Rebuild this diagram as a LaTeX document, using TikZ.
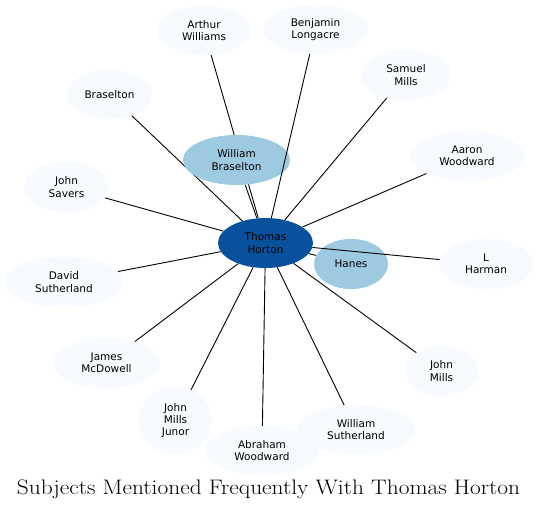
\documentclass[tikz,border=0pt]{standalone}
\usepackage{fontspec}
\newfontfamily\nodefont{DejaVu Sans}
\usetikzlibrary{shapes.geometric,backgrounds}
\definecolor{hubblue}{HTML}{08519C}
\definecolor{midblue}{HTML}{9ECAE1}
\definecolor{paleblue}{HTML}{F7FBFF}
\begin{document}
\begin{tikzpicture}[x=1pt,y=-1pt,
    subject/.style={ellipse, inner sep=0pt, align=center, fill=paleblue,
        font=\nodefont\fontsize{10.5}{12.3}\selectfont},
    link/.style={line width=0.9pt}]
    \useasboundingbox (0,0) rectangle (537,511);
    % Central subject
    \node[subject, fill=hubblue, minimum width=95pt, minimum height=50pt] (th) at (265.5,243) {Thomas\\Horton};
    % Frequent subjects
    \node[subject, fill=midblue, minimum width=107pt, minimum height=50pt] (wb) at (236.5,160) {William\\Braselton};
    \node[subject, fill=midblue, minimum width=74pt, minimum height=50pt] (ha) at (351,264) {Hanes};
    % Other subjects, clockwise from the top
    \node[subject, minimum width=94pt, minimum height=49pt] (aw) at (204,30.5) {Arthur\\Williams};
    \node[subject, minimum width=105pt, minimum height=49pt] (bl) at (315.5,29.5) {Benjamin\\Longacre};
    \node[subject, minimum width=90pt, minimum height=50pt] (sm) at (406,75) {Samuel\\Mills};
    \node[subject, minimum width=114pt, minimum height=49pt] (aa) at (467,156) {Aaron\\Woodward};
    \node[subject, minimum width=94pt, minimum height=50pt] (lh) at (486,264) {L\\Harman};
    \node[subject, minimum width=73pt, minimum height=50pt] (jm) at (441.5,371) {John\\Mills};
    \node[subject, minimum width=114pt, minimum height=49pt] (ab) at (262,450.5) {Abraham\\Woodward};
    \node[subject, minimum width=118pt, minimum height=49pt] (ws) at (356,429.5) {William\\Sutherland};
    \node[subject, minimum width=73pt, minimum height=67pt] (jj) at (175.5,420.5) {John\\Mills\\Junor};
    \node[subject, minimum width=107pt, minimum height=50pt] (jd) at (106.5,363) {James\\McDowell};
    \node[subject, minimum width=118pt, minimum height=50pt] (ds) at (64,282) {David\\Sutherland};
    \node[subject, minimum width=85pt, minimum height=50pt] (js) at (66.5,187) {John\\Savers};
    \node[subject, minimum width=85pt, minimum height=49pt] (br) at (109.5,94.5) {Braselton};
    % Links behind the nodes
    \begin{pgfonlayer}{background}
        \draw[link] (th) -- (wb);
        \draw[link] (th) -- (ha);
        \draw[link] (th) -- (aw);
        \draw[link] (th) -- (sm);
        \draw[link] (th) -- (aa);
        \draw[link] (th) -- (jm);
        \draw[link] (th) -- (ws);
        \draw[link] (th) -- (ab);
        \draw[link] (th) -- (jj);
        \draw[link] (th) -- (jd);
        \draw[link] (th) -- (ds);
        \draw[link] (th) -- (js);
        \draw[link] (th) -- (br);
    \end{pgfonlayer}
    % Links drawn over the nodes
    \draw[link] (th) -- (bl);
    \draw[link] (th) -- (lh);
    % Title
    \node[font=\fontsize{21}{25}\selectfont] (title) at (268.5,489) {\scalebox{1.115}[1]{Subjects Mentioned Frequently With Thomas Horton}};
\end{tikzpicture}
\end{document}
